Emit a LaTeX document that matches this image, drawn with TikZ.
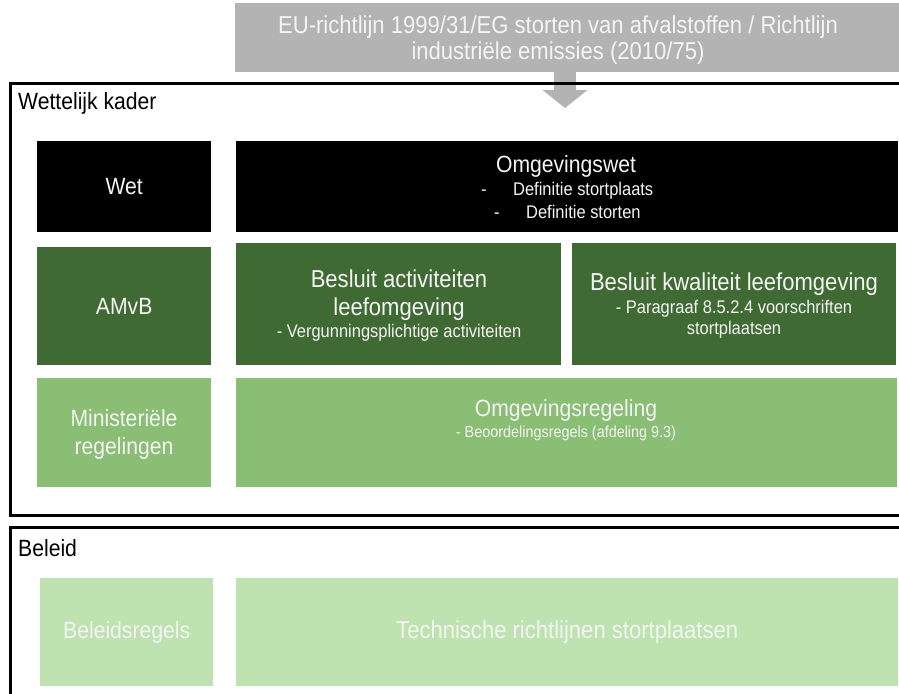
\documentclass[tikz,border=0pt]{standalone}
\usepackage{fontspec}
\setmainfont[FakeStretch=0.9]{Liberation Sans}
\usetikzlibrary{arrows.meta}
\definecolor{grayb}{HTML}{B3B3B3}
\definecolor{dkgreen}{HTML}{406A33}
\definecolor{mdgreen}{HTML}{89BE74}
\definecolor{ltgreen}{HTML}{BFE3B0}
\definecolor{txtw}{HTML}{F4F4F4}
\tikzset{
  box/.style={draw=none, inner sep=0pt, anchor=north west, text=txtw, align=center},
  frame/.style={draw=black, line width=3pt},
  lbl/.style={inner sep=0pt, anchor=west, text=black, font=\fontsize{23.5}{26}\selectfont},
  big/.style={font=\fontsize{23.5}{26}\selectfont},
  bigger/.style={font=\fontsize{24.5}{28}\selectfont},
  sub/.style={font=\fontsize{18.3}{21}\selectfont},
  tw/.style={text=txtw, inner sep=0pt, align=center}
}
\begin{document}
\begin{tikzpicture}[x=1pt,y=-1pt]
\useasboundingbox (0,0) rectangle (899,693);
\begin{scope}
\clip (0,0) rectangle (899,693);
% EU box
\node[box, fill=grayb, minimum width=670pt, minimum height=69pt] (eu) at (235,3) {};
\node[tw, font=\fontsize{24.5}{26}\selectfont] (eut) at (558,40) {EU-richtlijn 1999/31/EG storten van afvalstoffen / Richtlijn\\industriële emissies (2010/75)};
\coordinate (arrtip) at (565,108);
\draw[grayb, line width=22pt, -{Triangle[width=44pt,length=18pt]}] (565,72) -- (arrtip);
% frames
\draw[frame] (10,83) rectangle (910,515);
\draw[frame] (10,527) rectangle (910,710);
\end{scope}
\node[lbl] (wk) at (18,103) {Wettelijk kader};
\node[lbl] (bl) at (18,548) {Beleid};
% row Wet
\node[box, fill=black, minimum width=174pt, minimum height=91pt] (wet) at (37,141) {};
\node[tw, big] at (wet.center) {Wet};
\node[box, fill=black, minimum width=662pt, minimum height=91pt] (ow) at (236,141) {};
\node[tw, big] (owt) at (566,166) {Omgevingswet};
\node[tw, sub, anchor=west] at (481,191) {\makebox[32pt][l]{-}Definitie stortplaats};
\node[tw, sub, anchor=west] at (494,212) {\makebox[32pt][l]{-}Definitie storten};
% row AMvB
\node[box, fill=dkgreen, minimum width=174pt, minimum height=118pt] (amvb) at (37,247) {};
\node[tw, big] at (amvb.center) {AMvB};
\node[box, fill=dkgreen, minimum width=325pt, minimum height=122pt] (bal) at (236,243) {};
\node[tw, bigger] at (399,295) {Besluit activiteiten\\leefomgeving};
\node[tw, sub] at (399,333) {- Vergunningsplichtige activiteiten};
\node[box, fill=dkgreen, minimum width=324pt, minimum height=122pt] (bkl) at (572,243) {};
\node[tw, bigger] at (734,284) {Besluit kwaliteit leefomgeving};
\node[tw, sub] at (734,319) {- Paragraaf 8.5.2.4 voorschriften\\stortplaatsen};
% row Ministeriele
\node[box, fill=mdgreen, minimum width=174pt, minimum height=109pt] (min) at (37,378) {};
\node[tw, font=\fontsize{23.5}{28}\selectfont] at (124,434) {Ministeriële\\regelingen};
\node[box, fill=mdgreen, minimum width=661pt, minimum height=109pt] (or) at (236,378) {};
\node[tw, big] at (566,410) {Omgevingsregeling};
\node[tw, font=\fontsize{16}{20}\selectfont] at (566,433) {- Beoordelingsregels (afdeling 9.3)};
% Beleid row
\node[box, fill=ltgreen, minimum width=173pt, minimum height=108pt] (br) at (40,578) {};
\node[tw, big] at (br.center) {Beleidsregels};
\node[box, fill=ltgreen, minimum width=662pt, minimum height=108pt] (tr) at (236,578) {};
\node[tw, bigger] at (tr.center) {Technische richtlijnen stortplaatsen};
\end{tikzpicture}
\end{document}
